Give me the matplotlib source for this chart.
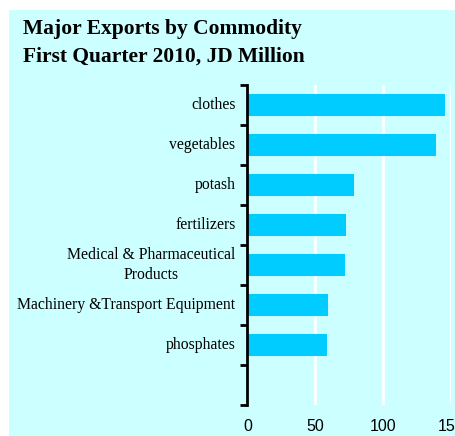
import matplotlib
matplotlib.use("Agg")
import matplotlib.pyplot as plt
from matplotlib.patches import Rectangle

# Export values, JD million, Q1 2010
commodities = ["clothes", "vegetables", "potash", "fertilizers",
               "Medical & Pharmaceutical\nProducts",
               "Machinery &Transport Equipment", "phosphates"]
values = [145.8, 139.1, 78.6, 72.7, 72.0, 59.4, 58.7]
xticks = [0, 50, 100, 150]

W, H = 455, 436
fig = plt.figure(figsize=(W / 100, H / 100), dpi=100)
fig.patch.set_facecolor("white")

# light cyan panel behind everything
fig.patches.append(Rectangle((9 / W, 0), 1 - 9 / W, 1 - 10 / H,
                             transform=fig.transFigure, facecolor="#CCFFFF",
                             edgecolor="none", zorder=-1))

fig.text(23 / W, 1 - 34 / H, "Major Exports by Commodity",
         family="Liberation Serif", weight="bold", fontsize=15.5, va="baseline")
fig.text(23 / W, 1 - 62 / H, "First Quarter 2010, JD Million",
         family="Liberation Serif", weight="bold", fontsize=15.5, va="baseline")

left, right = 247.5 / W, 450.7 / W
top, bottom = 1 - 85 / H, 1 - 405 / H
ax = fig.add_axes([left, bottom, right - left, top - bottom])
ax.set_zorder(2)
ax.set_facecolor("none")

n_slots = len(commodities) + 1  # one empty slot below the last bar
ypos = list(range(len(commodities)))
ax.barh(ypos, values, height=0.57, color="#00CCFF", zorder=2)
ax.set_ylim(n_slots - 0.5, -0.5)
ax.set_xlim(0, 150)

for x in xticks[1:]:
    ax.axvline(x, color="white", lw=2, zorder=1)

# category ticks sit on the slot boundaries
ax.set_yticks([i - 0.5 for i in range(n_slots + 1)])
ax.set_yticklabels([])
ax.tick_params(axis="y", length=5, width=2, color="black", direction="out")
for i, name in enumerate(commodities):
    ax.text(-12 / 1.355, i, name, ha="right", va="center", multialignment="center",
            family="Liberation Serif", fontsize=11.3, linespacing=1.3)

ax.set_xticks(xticks)
ax.set_xticklabels([str(t) for t in xticks], family="Liberation Sans", fontsize=11.5)
ax.tick_params(axis="x", length=0, pad=10)

for side in ["top", "right", "bottom"]:
    ax.spines[side].set_visible(False)
ax.spines["left"].set_linewidth(2)

fig.savefig("out.png", dpi=100, facecolor=fig.get_facecolor())
